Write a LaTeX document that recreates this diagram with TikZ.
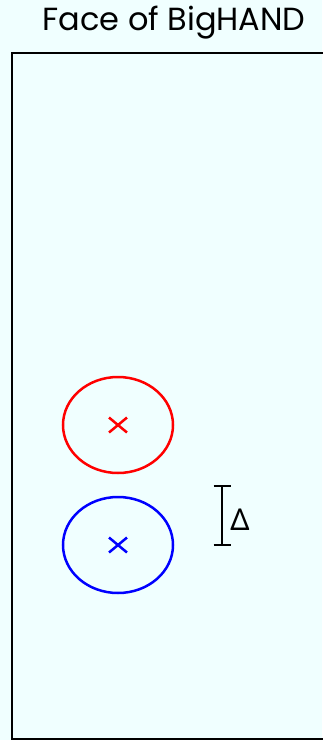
\documentclass[tikz,border=0pt]{standalone}
\usepackage{fontspec}
\setmainfont{Poppins}
\newfontfamily\greekfont{Noto Sans}
\usetikzlibrary{positioning,shapes.geometric,calc}
\definecolor{cFace}{RGB}{240,255,255}
\definecolor{cHit}{RGB}{255,0,0}
\definecolor{cRef}{RGB}{0,0,255}
\begin{document}
\begin{tikzpicture}[x=1pt,y=-1pt,line width=2.5pt,
   spot/.style={draw,ellipse,minimum width=110pt,minimum height=96pt,inner sep=0pt},
   cross/.style={line width=2.5pt}]
  \fill[cFace] (0,0) rectangle (322,740);
  \useasboundingbox (0,0) rectangle (322,740);
  \node[font=\fontsize{32}{34}\selectfont,inner sep=0pt] (title) at (174,23) {Face of BigHAND};
  \draw (340,53) -- (12,53) -- (12,739) -- (340,739);
  % the two spots
  \node[spot,cHit] (upper) at (118,425) {};
  \node[spot,cRef] (lower) at (118,545) {};
  \draw[cross,cHit] ($(upper.center)+(-9,-7.5)$) -- ($(upper.center)+(9,7.5)$);
  \draw[cross,cHit] ($(upper.center)+(-9,7.5)$) -- ($(upper.center)+(9,-7.5)$);
  \draw[cross,cRef] ($(lower.center)+(-9,-7.5)$) -- ($(lower.center)+(9,7.5)$);
  \draw[cross,cRef] ($(lower.center)+(-9,7.5)$) -- ($(lower.center)+(9,-7.5)$);
  % offset bar
  \coordinate (bartop) at (222,486);
  \coordinate (barbot) at (222,545);
  \draw (bartop) -- (barbot);
  \draw ($(bartop)+(-8.5,0)$) -- ($(bartop)+(8.5,0)$);
  \draw ($(barbot)+(-8.5,0)$) -- ($(barbot)+(8.5,0)$);
  \node[font=\greekfont\fontsize{30}{32}\selectfont,inner sep=0pt] (delta) at (240,520) {Δ};
\end{tikzpicture}
\end{document}
